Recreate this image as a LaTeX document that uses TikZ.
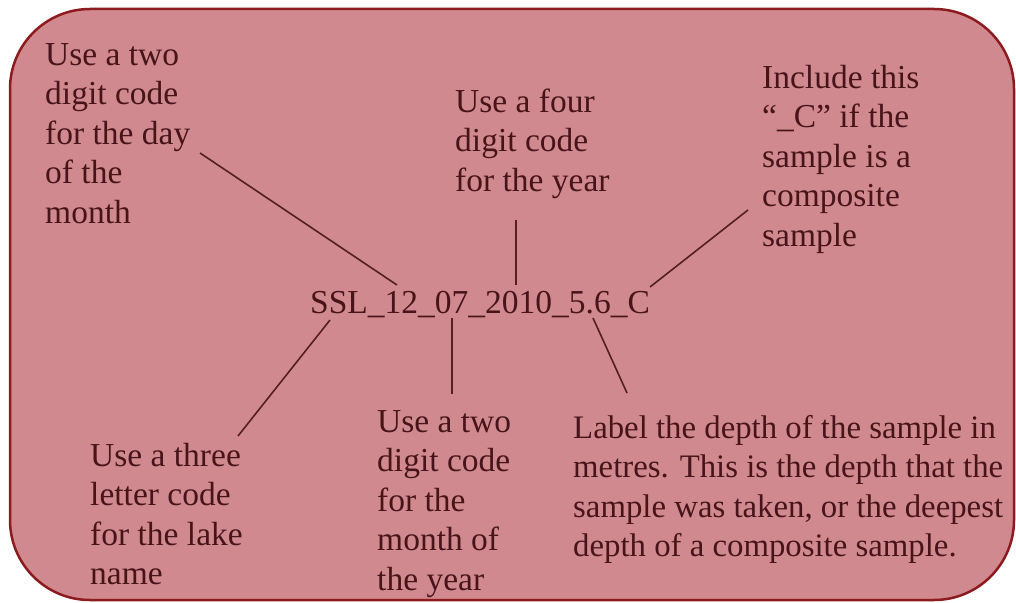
\documentclass[tikz,border=0pt]{standalone}
\usepackage{fontspec}
\setmainfont{Liberation Serif}
\definecolor{boxfill}{RGB}{208,138,143}
\definecolor{boxedge}{RGB}{140,26,30}
\definecolor{txt}{RGB}{72,20,26}
\definecolor{lin}{RGB}{85,30,34}
\tikzset{
  lbl/.style={anchor=base west, align=left, inner sep=0pt, text=txt,
    font=\fontsize{33.5}{39.5}\selectfont},
  conn/.style={draw=lin, line width=1.6pt},
}
\begin{document}
\begin{tikzpicture}[x=1pt,y=-1pt]
\useasboundingbox (0,0) rectangle (1016,602);
\draw[fill=boxfill, draw=boxedge, line width=2.5pt, rounded corners=80pt]
  (10,9) rectangle (1014,600);

% anchors are at the baseline of the last line of each block
\node[lbl] (code) at (310,313) {SSL\_12\_07\_2010\_5.6\_C};
\node[lbl] (day) at (45,223) {Use a two\\digit code\\for the day\\of the\\month};
\node[lbl] (four) at (455,191) {Use a four\\digit code\\for the year};
\node[lbl] (comp) at (762,246) {Include this\\``\_C'' if the\\sample is a\\composite\\sample};
\node[lbl] (three) at (90,584.5) {Use a three\\letter code\\for the lake\\name};
\node[lbl] (month) at (377,590) {Use a two\\digit code\\for the\\month of\\the year};
\node[lbl, font=\fontsize{32.8}{39.5}\selectfont] (depth) at (573,556.5) {Label the depth of the sample in\\metres. This is the depth that the\\sample was taken, or the deepest\\depth of a composite sample.};

\coordinate (dayS) at (200,153);
\coordinate (dayE) at (397,285);
\coordinate (fourS) at (516,220);
\coordinate (fourE) at (516,285);
\coordinate (compS) at (748,210);
\coordinate (compE) at (650,287);
\coordinate (threeS) at (238,436);
\coordinate (threeE) at (330,320);
\coordinate (monthS) at (452,394);
\coordinate (monthE) at (452,318);
\coordinate (depthS) at (627,393);
\coordinate (depthE) at (593,318);

\draw[conn] (dayS) -- (dayE);
\draw[conn] (fourS) -- (fourE);
\draw[conn] (compS) -- (compE);
\draw[conn] (threeS) -- (threeE);
\draw[conn] (monthS) -- (monthE);
\draw[conn] (depthS) -- (depthE);
\end{tikzpicture}
\end{document}
